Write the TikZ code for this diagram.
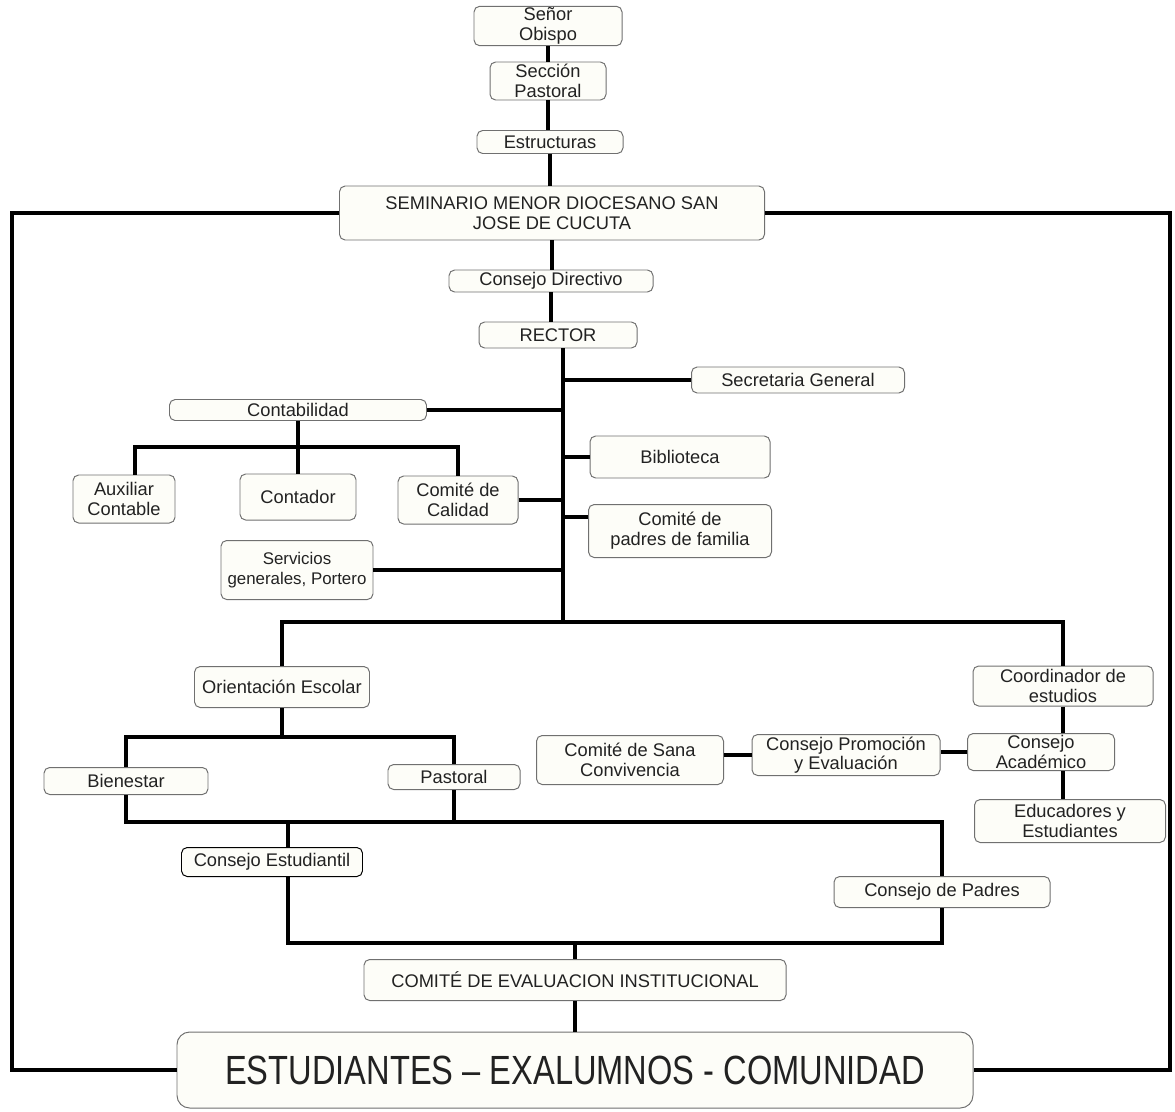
\documentclass[tikz,border=0pt]{standalone}
\usepackage{fontspec}
\setmainfont{Liberation Sans}
\newfontfamily\narrowfont[FakeStretch=0.8]{Liberation Sans}
\usetikzlibrary{positioning, calc}
\definecolor{BoxLine}{HTML}{707070}
\definecolor{BoxFill}{HTML}{FDFDF8}
\definecolor{DarkText}{HTML}{222222}
\tikzset{
  orgbox/.style={draw=BoxLine, fill=BoxFill, rounded corners=4pt, line width=0.7pt,
                 align=center, inner sep=1pt, text=DarkText,
                 font=\fontsize{13}{14}\selectfont},
  wh/.style 2 args={minimum width={#1*0.025cm}, minimum height={#2*0.025cm}},
  link/.style={line width=3.2pt, black},
}

\begin{document}
\begin{tikzpicture}[x=0.025cm, y=-0.025cm]
  \useasboundingbox (0,0) rectangle (1175,1111);

  % cabeza
  \node[orgbox, wh={148}{36}] (obispo) at (548,26) {Señor\\Obispo};
  \node[orgbox, wh={116}{38}] (seccion) at (548,81) {Sección\\Pastoral};
  \node[orgbox, wh={146}{23}] (estruc) at (550,142) {Estructuras};
  \node[orgbox, wh={425}{54}] (semin) at (552,213)
    {SEMINARIO MENOR DIOCESANO SAN\\JOSE DE CUCUTA};
  \node[orgbox, wh={204}{22}] (directivo) at (551,281) {Consejo Directivo};
  \node[orgbox, wh={158}{26}] (rector) at (558,335) {RECTOR};

  % ramas del rector
  \node[orgbox, wh={213}{26}] (secgen) at (798,380) {Secretaria General};
  \node[orgbox, wh={257}{21}] (contab) at (298,410) {Contabilidad};
  \node[orgbox, wh={180}{42}] (biblio) at (680,457) {Biblioteca};
  \node[orgbox, wh={102}{48}] (auxiliar) at (124,499) {Auxiliar\\Contable};
  \node[orgbox, wh={116}{46}] (contador) at (298,497) {Contador};
  \node[orgbox, wh={120}{48}] (calidad) at (458,500) {Comité de\\Calidad};
  \node[orgbox, wh={183}{53}] (padresfam) at (680,531) {Comité de\\padres de familia};
  \node[orgbox, wh={152}{59}, font=\fontsize{12}{14}\selectfont] (servicios) at (297,570)
    {Servicios\\generales, Portero};

  % nivel medio
  \node[orgbox, wh={175}{41}] (orient) at (282,687) {Orientación Escolar};
  \node[orgbox, wh={180}{40}] (coord) at (1063,686) {Coordinador de\\estudios};
  \node[orgbox, wh={164}{27}] (bienestar) at (126,781) {Bienestar};
  \node[orgbox, wh={132}{25}] (pastoral) at (454,777) {Pastoral};
  \node[orgbox, wh={187}{49}] (sana) at (630,760) {Comité de Sana\\Convivencia};
  \node[orgbox, wh={188}{41}] (promo) at (846,755) {Consejo Promoción\\y Evaluación};
  \node[orgbox, wh={147}{37}] (acad) at (1041,752) {Consejo\\Académico};
  \node[orgbox, wh={191}{43}] (educ) at (1070,821) {Educadores y\\Estudiantes};
  \node[orgbox, wh={181}{29}, draw=black] (estud) at (272,862) {Consejo Estudiantil};
  \node[orgbox, wh={216}{31}] (padres) at (942,892) {Consejo de Padres};

  % base
  \node[orgbox, wh={422}{41}] (comite) at (575,980) {COMITÉ DE EVALUACION INSTITUCIONAL};
  \node[orgbox, wh={796}{76}, rounded corners=9pt,
        font=\narrowfont\fontsize{29}{32}\selectfont] (comun) at (575,1070)
    {ESTUDIANTES – EXALUMNOS - COMUNIDAD};

  % puntos de union
  \coordinate (trunk) at (563,622);
  \coordinate (cbar) at (298,447);
  \coordinate (obar) at (288,737);
  \coordinate (sbar) at (288,822);
  \coordinate (ebar) at (575,943);
  \coordinate (lout) at (12,1070);
  \coordinate (rout) at (1170,1070);

  % linea de mando
  \draw[link] (obispo.south) -- (seccion.north);
  \draw[link] (seccion.south) -- (seccion.south |- estruc.north);
  \draw[link] (estruc.south) -- (estruc.south |- semin.north);
  \draw[link] (semin.south) -- (semin.south |- directivo.north);
  \draw[link] (directivo.south) -- (directivo.south |- rector.north);
  \draw[link] (rector.south -| trunk) -- (trunk);

  % ramas laterales
  \draw[link] (secgen.west) -- (secgen.west -| trunk);
  \draw[link] (contab.east) -- (contab.east -| trunk);
  \draw[link] (biblio.west) -- (biblio.west -| trunk);
  \draw[link] (calidad.east) -- (calidad.east -| trunk);
  \draw[link] ($(padresfam.west)+(0,-14)$) -- ($(padresfam.west -| trunk)+(0,-14)$);
  \draw[link] (servicios.east) -- (servicios.east -| trunk);
  \draw[link] (contab.south) -- (contador.north);
  \draw[link] ([xshift=0.28cm]auxiliar.north) |- (cbar) -| (calidad.north);

  % orientacion y coordinacion
  \draw[link] (orient.north) |- (trunk) -| (coord.north);
  \draw[link] (orient.south) -- (orient.south |- obar);
  \draw[link] (bienestar.north) |- (obar) -| (pastoral.north);
  \draw[link] (bienestar.south) |- (sbar) -| (padres.north);
  \draw[link] (pastoral.south) -- (pastoral.south |- sbar);
  \draw[link] (sbar) -- (sbar |- estud.north);
  \draw[link] (sbar |- estud.south) |- (ebar) -| (padres.south);
  \draw[link] (ebar) -- (comite.north);
  \draw[link] (comite.south) -- (comun.north);

  % consejo academico
  \draw[link] (coord.south) -- (coord.south |- acad.north);
  \draw[link] (coord.south |- acad.south) -- (coord.south |- educ.north);
  \draw[link] (acad.west) -- (acad.west -| promo.east);
  \draw[link] (promo.west) -- (promo.west -| sana.east);

  % lazo exterior
  \draw[link] (semin.west) -| (lout) -- (comun.west);
  \draw[link] (semin.east) -| (rout) -- (comun.east);
\end{tikzpicture}
\end{document}
